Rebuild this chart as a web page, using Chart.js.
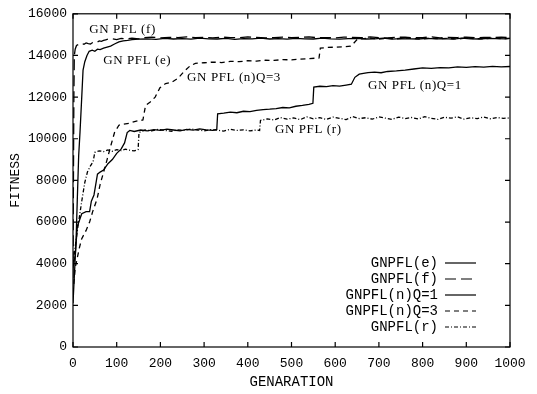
<!DOCTYPE html>
<html>
<head>
<meta charset="utf-8">
<script src="https://cdn.jsdelivr.net/npm/chart.js@4.4.1/dist/chart.umd.min.js"></script>
<style>
  body { margin: 0; background: #fff; }
  #wrap { width: 537px; height: 394px; }
</style>
</head>
<body>
<div id="wrap"><canvas id="fitChart" width="537" height="394"></canvas></div>
<script>
// legend names
const seriesNames = ['GNPFL(e)', 'GNPFL(f)', 'GNPFL(n)Q=1', 'GNPFL(n)Q=3', 'GNPFL(r)'];
// in-plot labels
const curveLabels = ['GN PFL (f)', 'GN PFL (e)', 'GN PFL (n)Q=3', 'GN PFL (n)Q=1', 'GN PFL (r)'];
const xTicks = [0, 100, 200, 300, 400, 500, 600, 700, 800, 900, 1000];
const yTicks = [0, 2000, 4000, 6000, 8000, 10000, 12000, 14000, 16000];

// GNPFL(e)
const genE = [0, 4, 7, 10, 13, 16, 20, 23, 27, 32, 37, 44, 50, 56, 62, 70, 78, 86, 95, 105, 115, 125, 135, 150,
  170, 190, 210, 230, 250, 270, 290, 310, 330, 350, 370, 390, 410, 430, 450, 470, 490, 510, 530, 550,
  570, 590, 610, 630, 650, 670, 690, 710, 730, 750, 770, 790, 810, 830, 850, 870, 890, 910, 930, 950,
  970, 990, 1000];
const fitE = [2100, 3800, 5100, 7200, 9200, 10300, 12000, 13300, 13700, 14000, 14200, 14250, 14200, 14300,
  14280, 14350, 14400, 14450, 14550, 14650, 14700, 14720, 14760, 14780,
  14800, 14770, 14820, 14790, 14810, 14780, 14830, 14800, 14790, 14820,
  14770, 14810, 14800, 14830, 14790, 14810, 14780, 14820, 14800, 14790,
  14830, 14800, 14780, 14810, 14820, 14790, 14800, 14830, 14780, 14810,
  14800, 14790, 14820, 14800, 14810, 14780, 14830, 14800, 14790, 14820,
  14810, 14800, 14820];

// GNPFL(f)
const genF = [0, 1, 2, 3, 5, 8, 12, 16, 20, 25, 30, 35, 40, 45, 50, 55, 60, 65, 70, 75, 80, 90, 100, 110, 120, 135, 150,
  160, 180, 200, 220, 240, 260, 280, 300, 320, 340, 360, 380, 400, 420, 440, 460, 480, 500, 520, 540,
  560, 580, 600, 620, 640, 660, 680, 700, 720, 740, 760, 780, 800, 820, 840, 860, 880, 900, 920, 940,
  960, 980, 1000];
const fitF = [3300, 8000, 12000, 14000, 14300, 14480, 14520, 14500, 14560, 14540,
  14600, 14570, 14550, 14620, 14650, 14630, 14700, 14680, 14720, 14750,
  14780, 14800, 14760, 14820, 14790, 14830, 14800,
  14850, 14880, 14840, 14870, 14860, 14890, 14850, 14870, 14840, 14880,
  14860, 14850, 14890, 14870, 14840, 14860, 14880, 14850, 14870, 14890,
  14850, 14860, 14840, 14880, 14870, 14850, 14890, 14860, 14840, 14870,
  14880, 14850, 14860, 14890, 14840, 14870, 14860, 14880, 14850, 14870,
  14860, 14880, 14850];

// GNPFL(n)Q=1
const genQ1 = [0, 5, 10, 15, 20, 30, 38, 42, 48, 52, 56, 62, 70, 80, 90, 100, 110, 118, 124, 130,
  140, 155, 170, 185, 200, 215, 230, 245, 260, 275, 290, 305, 320, 329, 331, 345, 360, 375, 390, 405,
  420, 435, 450, 465, 480, 495, 510, 525, 540, 549, 551, 565, 580, 595, 610, 625, 637, 645, 655, 668,
  675, 690, 705, 720, 740, 760, 780, 800, 820, 840, 860, 880, 900, 920, 940, 960, 980, 1000];
const fitQ1 = [3800, 4400, 5800, 6100, 6400, 6500, 6500, 7000, 7300, 7800,
  8300, 8400, 8500, 8800, 9000, 9300, 9500, 9800, 10300, 10400,
  10350, 10420, 10380, 10440, 10400, 10460, 10420, 10380, 10450, 10410,
  10470, 10430, 10400, 10450, 11200, 11230, 11280, 11250, 11320, 11300,
  11360, 11400, 11420, 11450, 11500, 11480, 11560, 11600, 11650, 11700,
  12480, 12520, 12500, 12550, 12530, 12580, 12620, 12950, 13100, 13150,
  13180, 13200, 13170, 13230, 13260, 13300, 13350, 13400, 13380, 13420,
  13400, 13450, 13430, 13460, 13440, 13480, 13450, 13470];

// GNPFL(n)Q=3
const genQ3 = [0, 5, 10, 15, 20, 30, 38, 45, 55, 62, 70, 78, 87, 95, 105, 115, 130, 145, 160, 166,
  176, 188, 199, 212, 225, 240, 255, 268, 280, 300, 320, 340, 360, 380, 400, 420, 440, 460, 480, 500,
  520, 540, 563, 566, 580, 600, 620, 635, 642, 650, 660, 680, 700, 720, 740, 760, 780, 800, 820, 840,
  860, 880, 900, 920, 940, 960, 980, 1000];
const fitQ3 = [2600, 3800, 4300, 4800, 5200, 5600, 6000, 6500, 7100, 7800,
  8400, 9000, 9700, 10300, 10650, 10700, 10750, 10850, 10900, 11600,
  11750, 12000, 12450, 12650, 12700, 12900, 13250, 13500, 13620, 13650,
  13680, 13660, 13720, 13700, 13750, 13730, 13770, 13760, 13800, 13790,
  13820, 13850, 13880, 14350, 14380, 14400, 14420, 14450, 14580, 14760,
  14800, 14830, 14790, 14820, 14800, 14840, 14810, 14790, 14830, 14800,
  14820, 14790, 14840, 14810, 14800, 14830, 14810, 14820];

// GNPFL(r)
const genR = [0, 5, 10, 15, 20, 27, 33, 40, 46, 50, 60, 70, 80, 90, 100, 110, 120, 130, 140, 149,
  151, 165, 180, 195, 210, 225, 240, 255, 270, 285, 300, 315, 330, 345, 360, 375, 390, 405, 420, 427,
  429, 445, 460, 475, 490, 505, 520, 535, 550, 565, 580, 595, 610, 625, 640, 655, 670, 685, 700, 715,
  730, 745, 760, 775, 790, 805, 820, 835, 850, 865, 880, 895, 910, 925, 940, 955, 970, 985, 1000];
const fitR = [4000, 4800, 5600, 6300, 7000, 7900, 8400, 8700, 8900, 9350,
  9420, 9380, 9460, 9400, 9480, 9430, 9500, 9450, 9420, 9480,
  10300, 10420, 10380, 10450, 10400, 10360, 10430, 10400, 10470, 10420,
  10380, 10440, 10410, 10370, 10450, 10400, 10430, 10380, 10420, 10400,
  10880, 10950, 10900, 11020, 10940, 11000, 10920, 11050, 10960, 11010,
  10930, 11040, 10980, 10920, 11060, 10970, 11010, 10940, 11050, 10990,
  10930, 11040, 10970, 11020, 10950, 11060, 10980, 10930, 11030, 10990,
  11050, 10940, 11010, 10970, 11040, 10960, 11020, 10980, 11000];

function pts(gx, fy) {
  return gx.map((g, i) => ({ x: g, y: fy[i] }));
}

const mono = 'Liberation Mono';
const serif = 'Liberation Serif';

// rahmen, innere ticks, beschriftungen und legende wie bei gnuplot
const gnuplotLook = {
  id: 'gnuplotLook',
  afterDatasetsDraw(chart) {
    const { ctx, chartArea: a, scales: { x, y } } = chart;
    ctx.save();
    ctx.strokeStyle = '#000';
    ctx.lineWidth = 1.2;
    ctx.strokeRect(a.left, a.top, a.right - a.left, a.bottom - a.top);
    ctx.beginPath();
    xTicks.forEach(v => {
      const px = x.getPixelForValue(v);
      ctx.moveTo(px, a.bottom); ctx.lineTo(px, a.bottom - 5);
      ctx.moveTo(px, a.top); ctx.lineTo(px, a.top + 5);
    });
    yTicks.forEach(v => {
      const py = y.getPixelForValue(v);
      ctx.moveTo(a.left, py); ctx.lineTo(a.left + 5, py);
      ctx.moveTo(a.right, py); ctx.lineTo(a.right - 5, py);
    });
    ctx.stroke();

    // kurvenbeschriftung
    ctx.fillStyle = '#000';
    ctx.font = '13px "' + serif + '"';
    ctx.textBaseline = 'middle';
    ctx.textAlign = 'left';
    ctx.letterSpacing = '0.6px';
    const spots = [[37, 15220], [69, 13770], [261, 12960], [675, 12535], [462, 10445]];
    curveLabels.forEach((t, i) => {
      ctx.fillText(t, x.getPixelForValue(spots[i][0]), y.getPixelForValue(spots[i][1]));
    });
    ctx.letterSpacing = '0px';

    // legende rechts unten
    ctx.font = '14px "' + mono + '"';
    ctx.textAlign = 'right';
    chart.data.datasets.forEach((ds, i) => {
      const ly = 263 + i * 16;
      ctx.fillText(ds.label, a.right - 72, ly);
      ctx.beginPath();
      ctx.setLineDash(ds.borderDash || []);
      ctx.lineWidth = 1.2;
      ctx.moveTo(a.right - 65, ly);
      ctx.lineTo(a.right - 34, ly);
      ctx.stroke();
    });
    ctx.restore();
  }
};

const series = [
  { data: pts(genE, fitE), dash: [] },
  { data: pts(genF, fitF), dash: [11, 5] },
  { data: pts(genQ1, fitQ1), dash: [] },
  { data: pts(genQ3, fitQ3), dash: [5, 4] },
  { data: pts(genR, fitR), dash: [4, 2, 1, 2] }
];

const ctx = document.getElementById('fitChart').getContext('2d');
new Chart(ctx, {
  type: 'line',
  data: {
    datasets: series.map((s, i) => ({
      label: seriesNames[i],
      data: s.data,
      borderColor: '#000',
      borderWidth: 1.3,
      borderDash: s.dash,
      pointRadius: 0,
      tension: 0,
      fill: false
    }))
  },
  options: {
    responsive: false,
    animation: false,
    layout: { padding: { top: 10, right: 27, left: 0, bottom: 0 } },
    scales: {
      x: {
        type: 'linear',
        min: 0,
        max: 1000,
        afterFit: s => { s.height = 47; },
        afterBuildTicks: s => { s.ticks = xTicks.map(v => ({ value: v })); },
        grid: { display: false, drawTicks: false },
        border: { display: false },
        ticks: { color: '#000', font: { family: mono, size: 13 }, padding: 9, maxRotation: 0, callback: v => String(v) },
        title: { display: true, text: 'GENARATION', color: '#000', font: { family: mono, size: 14 }, padding: { top: 0, bottom: 3 } }
      },
      y: {
        min: 0,
        max: 16000,
        afterFit: s => { s.width = 73; },
        afterBuildTicks: s => { s.ticks = yTicks.map(v => ({ value: v })); },
        grid: { display: false, drawTicks: false },
        border: { display: false },
        ticks: { color: '#000', font: { family: mono, size: 13 }, padding: 6, callback: v => String(v) },
        title: { display: true, text: 'FITNESS', color: '#000', font: { family: mono, size: 13 }, padding: { top: 8, bottom: 0 } }
      }
    },
    plugins: {
      legend: { display: false },
      tooltip: { enabled: false }
    }
  },
  plugins: [gnuplotLook]
});
</script>
</body>
</html>
